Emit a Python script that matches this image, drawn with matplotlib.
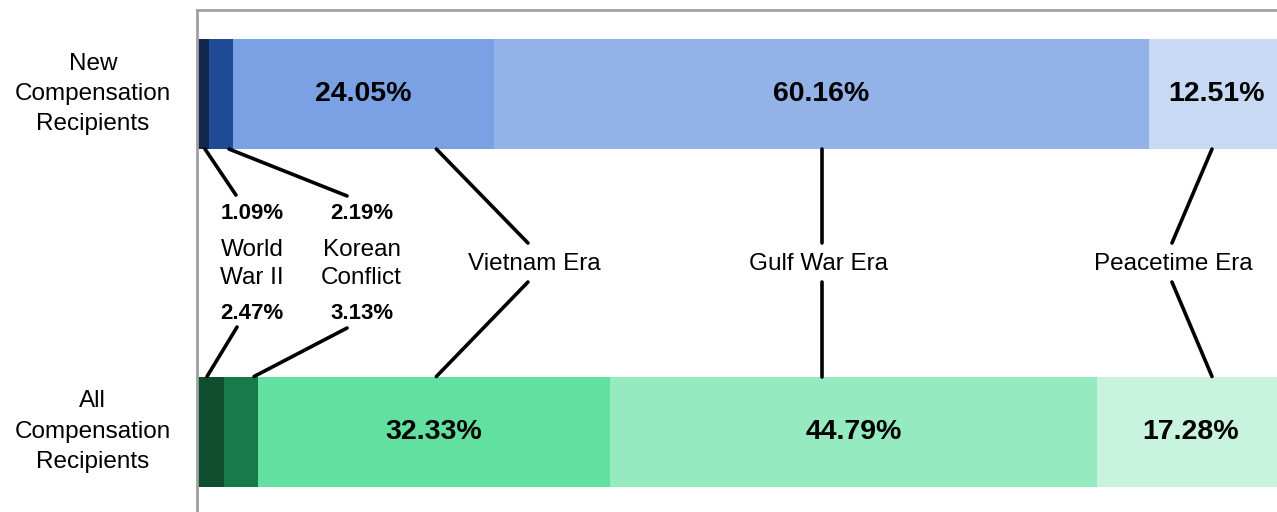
import matplotlib
matplotlib.use("Agg")
import matplotlib.pyplot as plt

plt.rcParams['font.family'] = ['Liberation Sans', 'DejaVu Sans']

# data
groups = ["New\nCompensation\nRecipients", "All\nCompensation\nRecipients"]
eras = ["World War II", "Korean Conflict", "Vietnam Era", "Gulf War Era", "Peacetime Era"]
new_pct = [1.09, 2.19, 24.05, 60.16, 12.51]
all_pct = [2.47, 3.13, 32.33, 44.79, 17.28]

blues = ["#13264d", "#1f4b96", "#7aa1e3", "#93b3e8", "#c8d9f3"]
greens = ["#0f4f2f", "#187a4a", "#62e0a0", "#96eac0", "#c8f4df"]

fig = plt.figure(figsize=(12.77, 5.12), dpi=100)
ax = fig.add_axes([197 / 1277, 0, 1088 / 1277, 502 / 512])

bar_h = 0.326
ypos = [1, 0]
for y, vals, cols in [(1, new_pct, blues), (0, all_pct, greens)]:
    left = 0
    for i, (v, c) in enumerate(zip(vals, cols)):
        ax.barh(y, v, left=left, height=bar_h, color=c, linewidth=0)
        # big labels only on the wide segments
        if i >= 2:
            ax.text(left + v / 2, y, f"{v:.2f}%", ha="center", va="center",
                    fontsize=20.5, fontweight="bold", color="black")
        left += v

ax.set_xlim(0, 100)
ax.set_ylim(-0.2385, 1.249)
ax.set_yticks(ypos)
ax.set_yticklabels(groups, fontsize=17.5, linespacing=1.48, ha="center", va="center")
ax.tick_params(axis="y", length=0, pad=75)
ax.set_xticks([])

for s in ["right", "bottom"]:
    ax.spines[s].set_visible(False)
for s in ["left", "top"]:
    ax.spines[s].set_color("#a0a0a0")
    ax.spines[s].set_linewidth(2)

top_edge = 1 - bar_h / 2
bot_edge = bar_h / 2
lw = 2.6

# small era labels (two left segments)
small_x = [5.06, 15.12]
small_names = ["World\nWar II", "Korean\nConflict"]
for i in range(2):
    ax.text(small_x[i], 0.6474, f"{new_pct[i]:.2f}%", ha="center", va="center",
            fontsize=16, fontweight="bold")
    ax.text(small_x[i], 0.4963, small_names[i], ha="center", va="center",
            fontsize=17.5, linespacing=1.32)
    ax.text(small_x[i], 0.3511, f"{all_pct[i]:.2f}%", ha="center", va="center",
            fontsize=16, fontweight="bold")

# leader lines for small labels
small_lines = [
    ((0.735, top_edge), (3.58, 0.7007)),
    ((2.94, top_edge), (13.79, 0.698)),
    ((0.92, bot_edge), (3.68, 0.3096)),
    ((5.24, bot_edge), (13.79, 0.3067)),
]
for (x0, y0), (x1, y1) in small_lines:
    ax.plot([x0, x1], [y0, y1], color="black", lw=lw, solid_capstyle="round")

# big era labels
era_x = [31.0, 57.1, 89.7]
line_lab_x = [30.42, 57.4, 89.61]
line_bar_x = [22.0, 57.4, 93.29]
for i in range(3):
    ax.text(era_x[i], 0.4963, eras[i + 2], ha="center", va="center", fontsize=17.5)
    ax.plot([line_bar_x[i], line_lab_x[i]], [top_edge, 0.5585], color="black",
            lw=lw, solid_capstyle="round")
    ax.plot([line_bar_x[i], line_lab_x[i]], [bot_edge, 0.443], color="black",
            lw=lw, solid_capstyle="round")

fig.savefig("out.png", dpi=100)
